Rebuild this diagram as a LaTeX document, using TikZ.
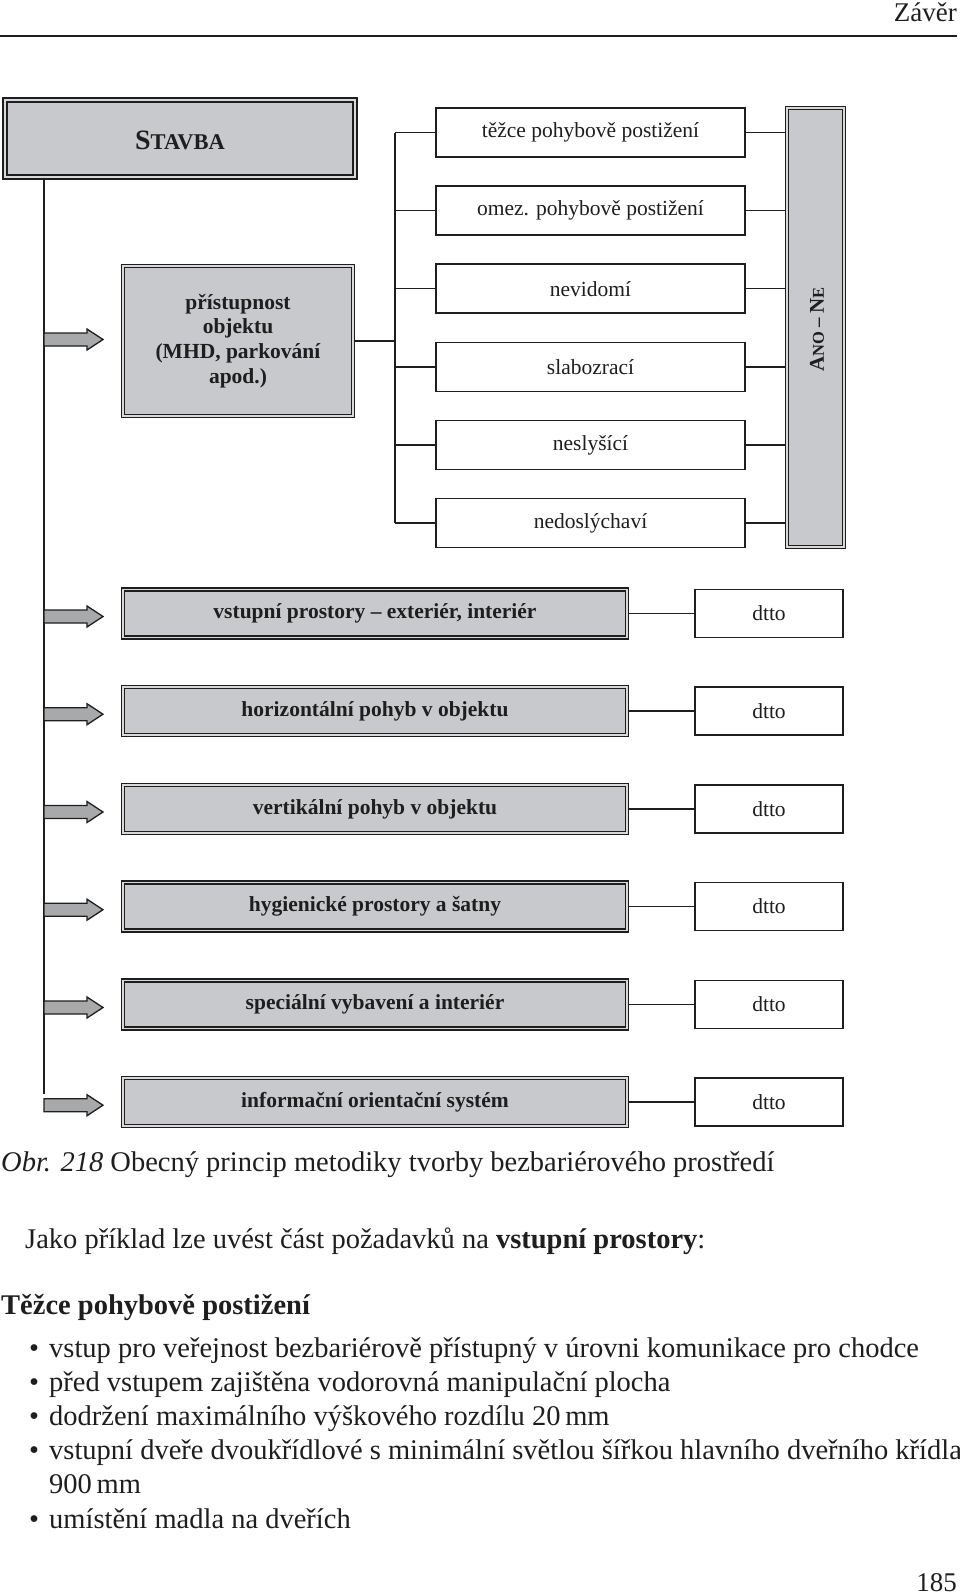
\documentclass[tikz,border=0pt]{standalone}
\usepackage{fontspec}
\setmainfont{Liberation Serif}
\definecolor{boxgray}{RGB}{200,201,204}
\definecolor{arrgray}{RGB}{168,169,171}
\definecolor{ink}{RGB}{30,30,30}
\newcommand\scbig[2]{{\fontsize{#1}{#1}\selectfont #2}}
\begin{document}
\begin{tikzpicture}[x=1pt,y=-1pt,
  dbox/.style={draw=ink, line width=1.3pt, double=black!15, double distance=1.7pt, fill=boxgray, inner sep=0pt, text=ink},
  wbox/.style={draw=ink, line width=1.5pt, fill=white, inner sep=0pt, text=ink},
  smallbox/.style={wbox, minimum width=309pt, minimum height=49pt, font=\fontsize{21.5}{26}\selectfont},
  rowbox/.style={dbox, minimum width=504pt, minimum height=48pt, font=\bfseries\fontsize{21.5}{26}\selectfont},
  dttobox/.style={wbox, minimum width=148pt, minimum height=48pt, font=\fontsize{21.5}{26}\selectfont},
  conn/.style={draw=ink, line width=1.5pt},
  blockarrow/.style={draw=ink, fill=arrgray, line width=1.3pt, line join=miter},
  body/.style={anchor=base west, inner sep=0pt, text=ink, font=\fontsize{28.5}{34}\selectfont}
]
\useasboundingbox (0,0) rectangle (960,1596);

% header
\node[anchor=base east, inner sep=0pt, text=ink, font=\fontsize{27}{30}\selectfont] (hdr) at (957,21) {Závěr};
\coordinate (hl) at (0,36);
\coordinate (hr) at (957,36);
\draw[draw=ink, line width=2pt] (hl) -- (hr);

% main box
\node[dbox, line width=1.8pt, double distance=2.2pt, minimum width=350pt, minimum height=77pt] (stavba) at (180,138.5) {};
\node[text=ink, font=\bfseries, anchor=base] at (180,149) {\scbig{28}{S}\scbig{22.5}{TAVBA}};

% access box
\node[dbox, minimum width=230pt, minimum height=150pt, align=center, font=\bfseries\fontsize{21.5}{24.8}\selectfont] (pr) at (238,341) {přístupnost\\objektu\\(MHD, parkování\\apod.)};

% small white boxes
\foreach \i/\t in {1/{těžce pohybově postižení},2/{omez. pohybově postižení},3/{nevidomí},4/{slabozrací},5/{neslyšící},6/{nedoslýchaví}}{
  \pgfmathsetmacro\yy{132.5+78.1*(\i-1)}
  \node[smallbox] (s\i) at (590.5,\yy) {\t};
}

% ANO - NE box
\node[dbox, minimum width=57pt, minimum height=439pt] (ano) at (815.5,327.5) {};
\node[rotate=90, text=ink, font=\bfseries, inner sep=0pt] at ([xshift=1.5pt,yshift=-2pt]ano.center) {\scbig{21}{A}\scbig{16.5}{NO}\hspace{4.5pt}\scbig{19}{–}\hspace{4.5pt}\scbig{21}{N}\scbig{16.5}{E}};

% bracket connectors
\coordinate (brk) at (395,0);
\draw[conn] (s1.west -| brk) -- (s6.west -| brk);
\draw[conn] (pr.east) -- (pr.east -| brk);
\foreach \i in {1,...,6}{
  \draw[conn] (s\i.west -| brk) -- (s\i.west);
  \draw[conn] (s\i.east) -- (s\i.east -| ano.west);
}

% rows
\foreach \i/\t in {0/{vstupní prostory – exteriér, interiér},1/{horizontální pohyb v objektu},2/{vertikální pohyb v objektu},3/{hygienické prostory a šatny},4/{speciální vybavení a interiér},5/{informační orientační systém}}{
  \pgfmathsetmacro\yy{613.4+97.74*\i}
  \node[rowbox] (r\i) at (375,\yy) {\t};
  \node[dttobox] (d\i) at (769,\yy) {dtto};
  \draw[conn] (r\i.east) -- (d\i.west);
}

% trunk
\coordinate (trunk) at (44,1094);
\draw[conn] (stavba.south -| trunk) -- (trunk);

% block arrows
\foreach \yy in {339.5,616.5,714.2,812,909.7,1007.5,1105.2}{
  \draw[blockarrow] (44,\yy-6.5) -- (87,\yy-6.5) -- (87,\yy-10.5) -- (103,\yy) -- (87,\yy+10.5) -- (87,\yy+6.5) -- (44,\yy+6.5) -- cycle;
}

% caption and text
\node[body] (cap) at (1,1171) {\textit{Obr. 218} Obecný princip metodiky tvorby bezbariérového prostředí};
\node[body] (jako) at (25,1248) {Jako příklad lze uvést část požadavků na \textbf{vstupní prostory}:};
\node[body, font=\bfseries\fontsize{28.5}{34}\selectfont] (tez) at (1,1314) {Těžce pohybově postižení};
\foreach \yy/\t in {1357/{vstup pro veřejnost bezbariérově přístupný v úrovni komunikace pro chodce},1391/{před vstupem zajištěna vodorovná manipulační plocha},1425/{dodržení maximálního výškového rozdílu 20\,mm},1459/{vstupní dveře dvoukřídlové s minimální světlou šířkou hlavního dveřního křídla},1528/{umístění madla na dveřích}}{
  \node[body] at (29,\yy) {\textbullet};
  \node[body] at (49,\yy) {\t};
}
\node[body] (l900) at (49,1493) {900\,mm};
\node[anchor=base east, inner sep=0pt, text=ink, font=\fontsize{27}{30}\selectfont] (pg) at (957,1591) {185};
\end{tikzpicture}
\end{document}
